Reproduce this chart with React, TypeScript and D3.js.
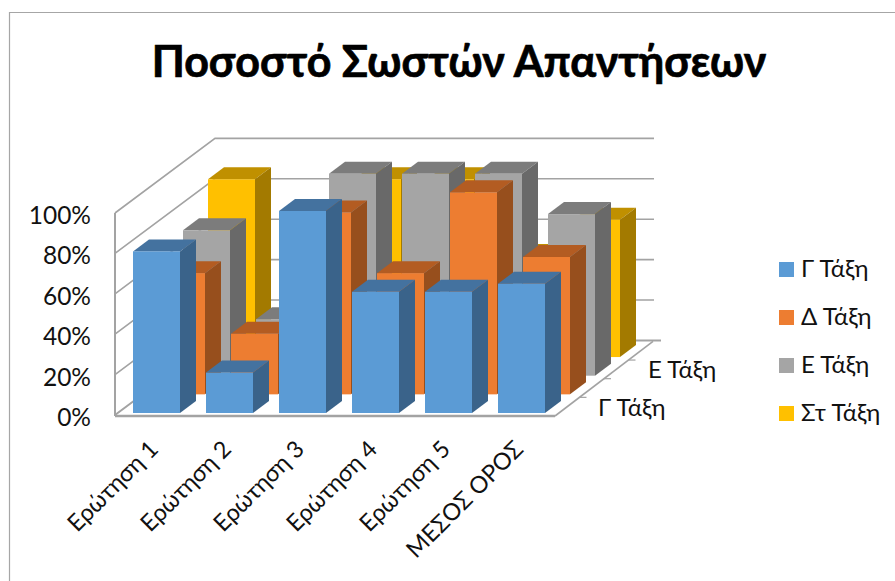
import React from "react";
import * as d3 from "d3";

const title = "Ποσοστό Σωστών Απαντήσεων";
const categories = ["Ερώτηση 1", "Ερώτηση 2", "Ερώτηση 3", "Ερώτηση 4", "Ερώτηση 5", "ΜΕΣΟΣ ΟΡΟΣ"];
const seriesNames = ["Γ Τάξη", "Δ Τάξη", "Ε Τάξη", "Στ Τάξη"];
const depthLabels = ["Γ Τάξη", "Ε Τάξη"];
const gTaxi = [80, 20, 100, 60, 60, 64];
const dTaxi = [60, 30, 90, 60, 100, 68];
const eTaxi = [72, 28, 100, 100, 100, 80];
const stTaxi = [88, 26, 88, 88, 50, 68];
const seriesValues = [gTaxi, dTaxi, eTaxi, stTaxi];
const yTicks = [0, 20, 40, 60, 80, 100];
const front = ["#5B9BD5", "#ED7D31", "#A5A5A5", "#FFC000"];
const side = ["#3A638A", "#974F1D", "#696969", "#A37A00"];
const top = ["#44729F", "#B35C22", "#7C7C7C", "#C09000"];

const font = "Lato, 'Open Sans', sans-serif";
const grid = "#A3A3A3";

export default function App() {
  const x = d3.scaleLinear().domain([0, categories.length]).range([124, 562]);
  const y = d3.scaleLinear().domain([0, 100]).range([0, 202]);
  const depthX = d3.scaleLinear().domain([0, 4]).range([0, 100]);
  const depthY = d3.scaleLinear().domain([0, 4]).range([0, -74.6]);
  const barW = 47;
  const barDX = 16;
  const barDY = -12;
  const base = 413;
  const wallX = 115;
  const wallY = (v: number) => 415 - y(v);
  const backDX = depthX(4);
  const backDY = depthY(4);
  const pts = (a: number[][]) => a.map((p) => p.join(",")).join(" ");
  const order = d3.range(seriesNames.length).reverse();

  return (
    <svg width={895} height={581} style={{ position: "absolute", left: 0, top: 0, background: "#fff" }} fontFamily={font}>
      <path d="M9.5 581V12.5H895" fill="none" stroke="#A6A6A6" strokeWidth={1.2} />
      <text x={459} y={77} textAnchor="middle" fontSize={43} fontWeight={700} fill="#000" stroke="#000" strokeWidth={0.7}>{title}</text>

      {yTicks.map((t) => (
        <polyline key={t} stroke={grid} strokeWidth={t === 0 ? 2 : 1.6} fill="none" points={pts([[wallX, wallY(t)], [wallX + backDX, wallY(t) + backDY], [t === 0 ? 661 : 654, wallY(t) + backDY]])} />
      ))}
      <line x1={wallX} x2={wallX} y1={wallY(100)} y2={wallY(0) + 1} stroke={grid} strokeWidth={2} />
      <line x1={wallX} x2={555} y1={416} y2={416} stroke={grid} strokeWidth={2.4} />
      <polyline points={pts([[555, 416], [555 + 98, 416 + backDY]])} fill="none" stroke={grid} strokeWidth={1.6} />
      {d3.range(1, 4).map((i) => (
        <line key={i} x1={555 + (98 / 4) * i} y1={416 + depthY(i)} x2={555 + (98 / 4) * i + 7} y2={416 + depthY(i)} stroke={grid} strokeWidth={1.2} />
      ))}

      {order.map((s) => (
        <g key={s}>
          {seriesValues[s].map((v, c) => {
            const x0 = x(c) + 9 + depthX(s);
            const yb = base + depthY(s);
            const h = y(v);
            const yt = yb - h;
            return (
              <g key={c}>
                <polygon fill={top[s]} points={pts([[x0, yt], [x0 + barDX, yt + barDY], [x0 + barW + barDX, yt + barDY], [x0 + barW, yt]])} />
                <polygon fill={side[s]} points={pts([[x0 + barW, yt], [x0 + barW + barDX, yt + barDY], [x0 + barW + barDX, yb + barDY], [x0 + barW, yb]])} />
                <rect x={x0} y={yt} width={barW} height={h} fill={front[s]} />
              </g>
            );
          })}
        </g>
      ))}

      {yTicks.map((t) => (
        <text key={t} x={91} y={wallY(t) + 9} dy={2} textAnchor="end" fontSize={24.5} fill="#111">{t}%</text>
      ))}
      {categories.map((c, i) => (
        <text key={c} textAnchor="end" fontSize={23.5} fill="#111" transform={`translate(${x(i) + 24},${439}) rotate(-45)`} dy="0.7em">{c}</text>
      ))}
      <text x={598} y={416} fontSize={24} fill="#111">{depthLabels[0]}</text>
      <text x={648} y={378} fontSize={24} fill="#111">{depthLabels[1]}</text>

      {seriesNames.map((n, i) => (
        <g key={n}>
          <rect x={779} y={262 + i * 48} width={15} height={15} fill={front[i]} />
          <text x={801} y={277 + i * 48} fontSize={24} fill="#111">{n}</text>
        </g>
      ))}
    </svg>
  );
}
